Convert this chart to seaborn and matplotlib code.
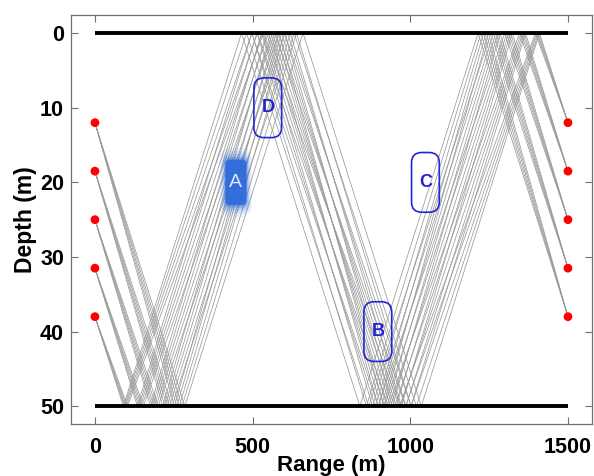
import numpy as np
import pandas as pd
import matplotlib
matplotlib.use("Agg")
import matplotlib.pyplot as plt
import seaborn as sns
from matplotlib.patches import FancyBboxPatch

# Geometry of the waveguide
max_range = 1500
water_depth = 50

# Source (x=0) and receiver (x=1500) depths
source_depths = [12, 18.5, 25, 31.5, 38]
receiver_depths = [12, 18.5, 25, 31.5, 38]

# Boundary order of each eigenray: bottom, surface, bottom, surface
bounce_sequence = ["bottom", "surface", "bottom", "surface"]

# Annotated regions
region_labels = ["A", "B", "C", "D"]
region_range = [447, 897, 1048, 548]
region_depth = [20, 40, 20, 10]

# Build eigenray paths with the image method
rows = []
ray_id = 0
for zs in source_depths:
    for zr in receiver_depths:
        depths = [zs]
        cum = [0.0]
        z = zs
        for b in bounce_sequence:
            target = water_depth if b == "bottom" else 0
            cum.append(cum[-1] + abs(target - z))
            depths.append(target)
            z = target
        cum.append(cum[-1] + abs(zr - z))
        depths.append(zr)
        total = cum[-1]
        for k, (c, d) in enumerate(zip(cum, depths)):
            rows.append({"ray": ray_id, "order": k,
                         "range": max_range * c / total, "depth": d})
        ray_id += 1
rays = pd.DataFrame(rows)

nodes = pd.DataFrame({
    "range": [0] * len(source_depths) + [max_range] * len(receiver_depths),
    "depth": source_depths + receiver_depths,
})

sns.set_style("ticks")
plt.rcParams["font.family"] = ["Liberation Sans", "DejaVu Sans"]
plt.rcParams["font.weight"] = "bold"
plt.rcParams["text.color"] = "black"
plt.rcParams["axes.labelcolor"] = "black"

fig = plt.figure(figsize=(5.94, 4.76), dpi=100)
ax = fig.add_axes([0.1195, 0.109, 0.877, 0.859])

# Eigenrays
sns.lineplot(data=rays, x="range", y="depth", units="ray", estimator=None,
             sort=False, color="#9a9a9a", lw=0.55, ax=ax, legend=False)

# Surface and bottom
ax.plot([0, max_range], [0, 0], color="black", lw=2.8, solid_capstyle="butt")
ax.plot([0, max_range], [water_depth, water_depth], color="black", lw=2.8,
        solid_capstyle="butt")

# Sources and receivers
sns.scatterplot(data=nodes, x="range", y="depth", color="#ff0000", s=40,
                edgecolor="none", ax=ax, zorder=5)

# Regions
w, h = 88, 8
rx, ry = 32, 1.35
for lab, cx, cy in zip(region_labels, region_range, region_depth):
    if lab == "A":
        # blurred filled patch
        for grow, a in [(36, 0.08), (26, 0.12), (17, 0.18), (9, 0.28),
                        (3, 0.45), (0, 0.8)]:
            ww = 66 + grow
            hh = 6.0 + grow * 0.09
            p = FancyBboxPatch((cx - ww / 2, cy - hh / 2), ww, hh,
                               boxstyle=f"round,pad=0,rounding_size={14 + grow * 0.6}",
                               mutation_aspect=0.042, fc="#2a68dc", ec="none",
                               alpha=a, zorder=3)
            ax.add_patch(p)
        ax.text(cx, cy, lab, color="#dde7f8", fontsize=14, fontweight="normal",
                ha="center", va="center", zorder=4)
    else:
        p = FancyBboxPatch((cx - w / 2, cy - h / 2), w, h,
                           boxstyle=f"round,pad=0,rounding_size={rx}",
                           mutation_aspect=ry / rx, fc="none", ec="#2424d8",
                           lw=1.2, zorder=4)
        ax.add_patch(p)
        ax.text(cx, cy, lab, color="#2222d2", fontsize=13, fontweight="bold",
                ha="center", va="center", zorder=4)

ax.set_xlim(-76, 1576)
ax.set_ylim(52.4, -2.4)
ax.set_xticks([0, 500, 1000, 1500])
ax.set_yticks([0, 10, 20, 30, 40, 50])
ax.tick_params(direction="in", top=True, right=True, length=5, width=0.8,
               color="#707070", labelcolor="black", labelsize=15.5)
ax.tick_params(axis="x", pad=9)
ax.tick_params(axis="y", pad=5)
for lbl in ax.get_xticklabels() + ax.get_yticklabels():
    lbl.set_fontweight("bold")
for s in ax.spines.values():
    s.set_visible(True)
    s.set_color("#707070")
    s.set_linewidth(0.9)

ax.set_xlabel("Range (m)", fontsize=16, fontweight="bold", va="baseline")
ax.xaxis.set_label_coords(0.5, -0.1137)
ax.set_ylabel("Depth (m)", fontsize=16.5, fontweight="bold", labelpad=2)

fig.savefig("out.png", dpi=100)
